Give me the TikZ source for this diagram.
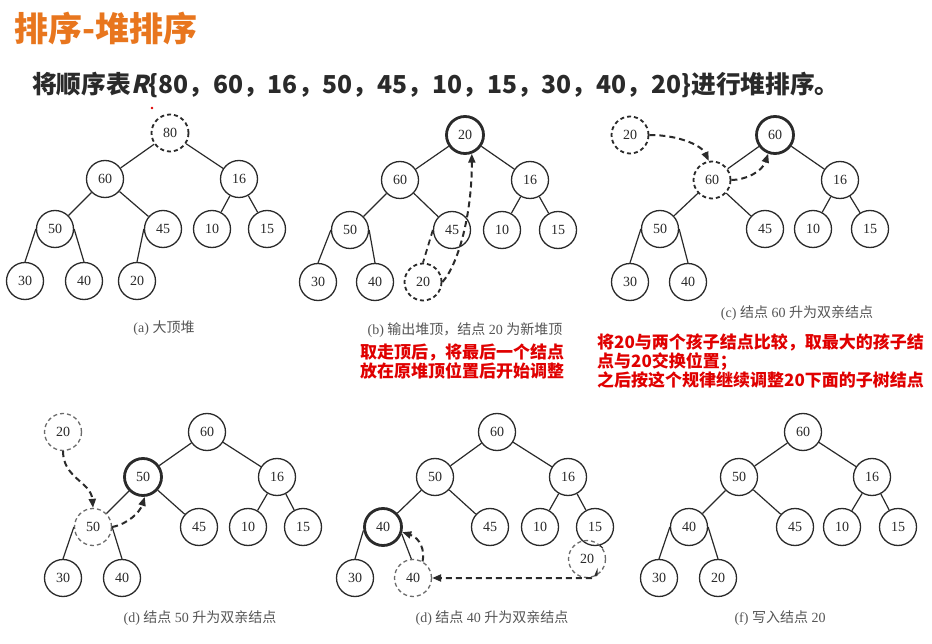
\documentclass[tikz,border=0pt]{standalone}
\usepackage{fontspec}
\setmainfont{Liberation Serif}
\newfontfamily\cjk{Noto Sans CJK SC}
\newfontfamily\cjkslant[FakeSlant=0.22]{Noto Sans CJK SC}
\usetikzlibrary{arrows.meta}
\definecolor{titleorange}{HTML}{E8761E}
\definecolor{ink}{HTML}{2A2A2A}
\definecolor{capgray}{HTML}{555555}
\definecolor{ghostgray}{HTML}{6A6A6A}
\definecolor{notered}{HTML}{E00000}

\tikzset{
  hnode/.style={circle, draw=ink, line width=1.3pt, minimum size=37pt, inner sep=0pt,
                font=\fontsize{14}{14}\selectfont, text=ink},
  hot/.style={hnode, line width=2.8pt},
  moved/.style={hnode, line width=1.8pt, dash pattern=on 4pt off 3pt},
  ghost/.style={hnode, draw=ghostgray, line width=1.3pt, dash pattern=on 4pt off 3pt},
  tedge/.style={draw=ink, line width=1.2pt},
  dedge/.style={draw=ink, line width=1.8pt, dash pattern=on 6pt off 4pt},
  swap/.style={draw=ink, line width=2pt, dash pattern=on 6pt off 4pt,
               -{Triangle[length=9pt,width=7pt]}},
  caption/.style={text=capgray, font=\fontsize{14}{14}\selectfont},
  remark/.style={text=notered, font=\cjk\bfseries\fontsize{17}{19}\selectfont},
}

\begin{document}
\begin{tikzpicture}[x=1pt,y=-1pt]
\useasboundingbox (0,0) rectangle (932,644);
\fill[white] (0,0) rectangle (932,644);

% heading and task statement
\node[anchor=west, text=titleorange, inner sep=0pt,
      font=\cjk\bfseries\fontsize{34}{34}\selectfont] (title) at (14,28) {排序-堆排序};
\node[anchor=west, text=ink, inner sep=0pt,
      font=\cjk\bfseries\fontsize{24.7}{25}\selectfont] (task) at (32,85)
  {将顺序表{\cjkslant\bfseries R}\{80，60，16，50，45，10，15，30，40，20\}进行堆排序。};
\fill[notered] (152,108) circle (1.3pt);

% (a) max heap
\node[moved] (a80) at (170,133) {80};
\node[hnode] (a60) at (105,179) {60};
\node[hnode] (a16) at (239,179) {16};
\node[hnode] (a50) at (55,229) {50};
\node[hnode] (a45) at (163,229) {45};
\node[hnode] (a10) at (212,229) {10};
\node[hnode] (a15) at (267,229) {15};
\node[hnode] (a30) at (25,281) {30};
\node[hnode] (a40) at (84,281) {40};
\node[hnode] (a20) at (137,281) {20};
\draw[tedge] (a80)--(a60) (a80)--(a16) (a60)--(a50) (a60)--(a45)
             (a16)--(a10) (a16)--(a15)
             (a50.west)--(a30.north) (a50.east)--(a40.north) (a45.west)--(a20.north);
\node[caption] (capa) at (164,328) {(a)\ {\cjk 大顶堆}};

% (b) last node moved to the top
\node[hot]   (b20) at (465,135) {20};
\node[hnode] (b60) at (400,180) {60};
\node[hnode] (b16) at (530,180) {16};
\node[hnode] (b50) at (350,230) {50};
\node[hnode] (b45) at (452,230) {45};
\node[hnode] (b10) at (502,230) {10};
\node[hnode] (b15) at (558,230) {15};
\node[hnode] (b30) at (318,282) {30};
\node[hnode] (b40) at (375,282) {40};
\node[moved] (b20d) at (423,282) {20};
\draw[tedge] (b20)--(b60) (b20)--(b16) (b60)--(b50) (b60)--(b45)
             (b16)--(b10) (b16)--(b15)
             (b50.west)--(b30.north) (b50.east)--(b40.north);
\draw[dedge] (b45.west)--(b20d.north);
\draw[swap] (b20d.east) .. controls (458,265) and (472,215) .. (b20.-70);
\node[caption] (capb) at (465,330) {(b)\ {\cjk 输出堆顶，结点}\ 20\ {\cjk 为新堆顶}};
\node[remark, align=center] (noteb) at (462,362) {取走顶后，将最后一个结点\\放在原堆顶位置后开始调整};

% (c) 60 rises
\node[moved] (c20) at (630,135) {20};
\node[hot]   (c60) at (775,135) {60};
\node[moved] (c60d) at (712,180) {60};
\node[hnode] (c16) at (840,180) {16};
\node[hnode] (c50) at (660,229) {50};
\node[hnode] (c45) at (765,229) {45};
\node[hnode] (c10) at (813,229) {10};
\node[hnode] (c15) at (870,229) {15};
\node[hnode] (c30) at (630,282) {30};
\node[hnode] (c40) at (688,282) {40};
\draw[tedge] (c60)--(c60d) (c60)--(c16) (c60d)--(c50) (c60d)--(c45)
             (c16)--(c10) (c16)--(c15)
             (c50.west)--(c30.north) (c50.east)--(c40.north);
\draw[swap] (c20.east) .. controls (680,135) and (702,146) .. (c60d.100);
\draw[swap] (c60d.east) .. controls (745,180) and (762,172) .. (c60.-110);
\node[caption] (capc) at (797,313) {(c)\ {\cjk 结点}\ 60\ {\cjk 升为双亲结点}};
\node[remark, anchor=north west, align=left, inner sep=0pt] (notec) at (597,334)
  {将20与两个孩子结点比较，取最大的孩子结\\点与20交换位置；\\之后按这个规律继续调整20下面的子树结点};

% (d) 50 rises
\node[ghost] (d20) at (63,432) {20};
\node[hnode] (d60) at (207,432) {60};
\node[hot]   (d50) at (143,477) {50};
\node[hnode] (d16) at (277,477) {16};
\node[ghost] (d50d) at (93,527) {50};
\node[hnode] (d45) at (199,527) {45};
\node[hnode] (d10) at (248,527) {10};
\node[hnode] (d15) at (303,527) {15};
\node[hnode] (d30) at (63,578) {30};
\node[hnode] (d40) at (122,578) {40};
\draw[tedge] (d60)--(d50) (d60)--(d16) (d50)--(d50d) (d50)--(d45)
             (d16)--(d10) (d16)--(d15)
             (d50d.west)--(d30.north) (d50d.east)--(d40.north);
\draw[swap] (d20.south) .. controls (63,478) and (91,482) .. (d50d.north);
\draw[swap] (d50d.east) .. controls (128,524) and (140,512) .. (d50.-85);
\node[caption] (capd) at (200,618) {(d)\ {\cjk 结点}\ 50\ {\cjk 升为双亲结点}};

% (e) 40 rises
\node[hnode] (e60) at (497,432) {60};
\node[hnode] (e50) at (435,477) {50};
\node[hnode] (e16) at (568,477) {16};
\node[hot]   (e40) at (383,527) {40};
\node[hnode] (e45) at (490,527) {45};
\node[hnode] (e10) at (540,527) {10};
\node[hnode] (e15) at (595,527) {15};
\node[hnode] (e30) at (355,578) {30};
\node[ghost] (e40d) at (413,578) {40};
\node[ghost] (e20) at (587,559) {20};
\draw[tedge] (e60)--(e50) (e60)--(e16) (e50)--(e40) (e50)--(e45)
             (e16)--(e10) (e16)--(e15)
             (e40.-170)--(e30.north) (e40.-20)--(e40d.95) (e15.-75)--(e20.35);
\draw[swap, rounded corners=5pt] (e20.-60) |- (e40d.east);
\draw[swap] (e40d.60) .. controls (425,550) and (420,538) .. (e40.-15);
\node[caption] (cape) at (492,618) {(d)\ {\cjk 结点}\ 40\ {\cjk 升为双亲结点}};

% (f) 20 written in
\node[hnode] (f60) at (803,432) {60};
\node[hnode] (f50) at (739,477) {50};
\node[hnode] (f16) at (872,477) {16};
\node[hnode] (f40) at (689,527) {40};
\node[hnode] (f45) at (795,527) {45};
\node[hnode] (f10) at (842,527) {10};
\node[hnode] (f15) at (898,527) {15};
\node[hnode] (f30) at (659,578) {30};
\node[hnode] (f20) at (718,578) {20};
\draw[tedge] (f60)--(f50) (f60)--(f16) (f50)--(f40) (f50)--(f45)
             (f16)--(f10) (f16)--(f15)
             (f40.west)--(f30.north) (f40.east)--(f20.north);
\node[caption] (capf) at (780,618) {(f)\ {\cjk 写入结点}\ 20};
\end{tikzpicture}
\end{document}
